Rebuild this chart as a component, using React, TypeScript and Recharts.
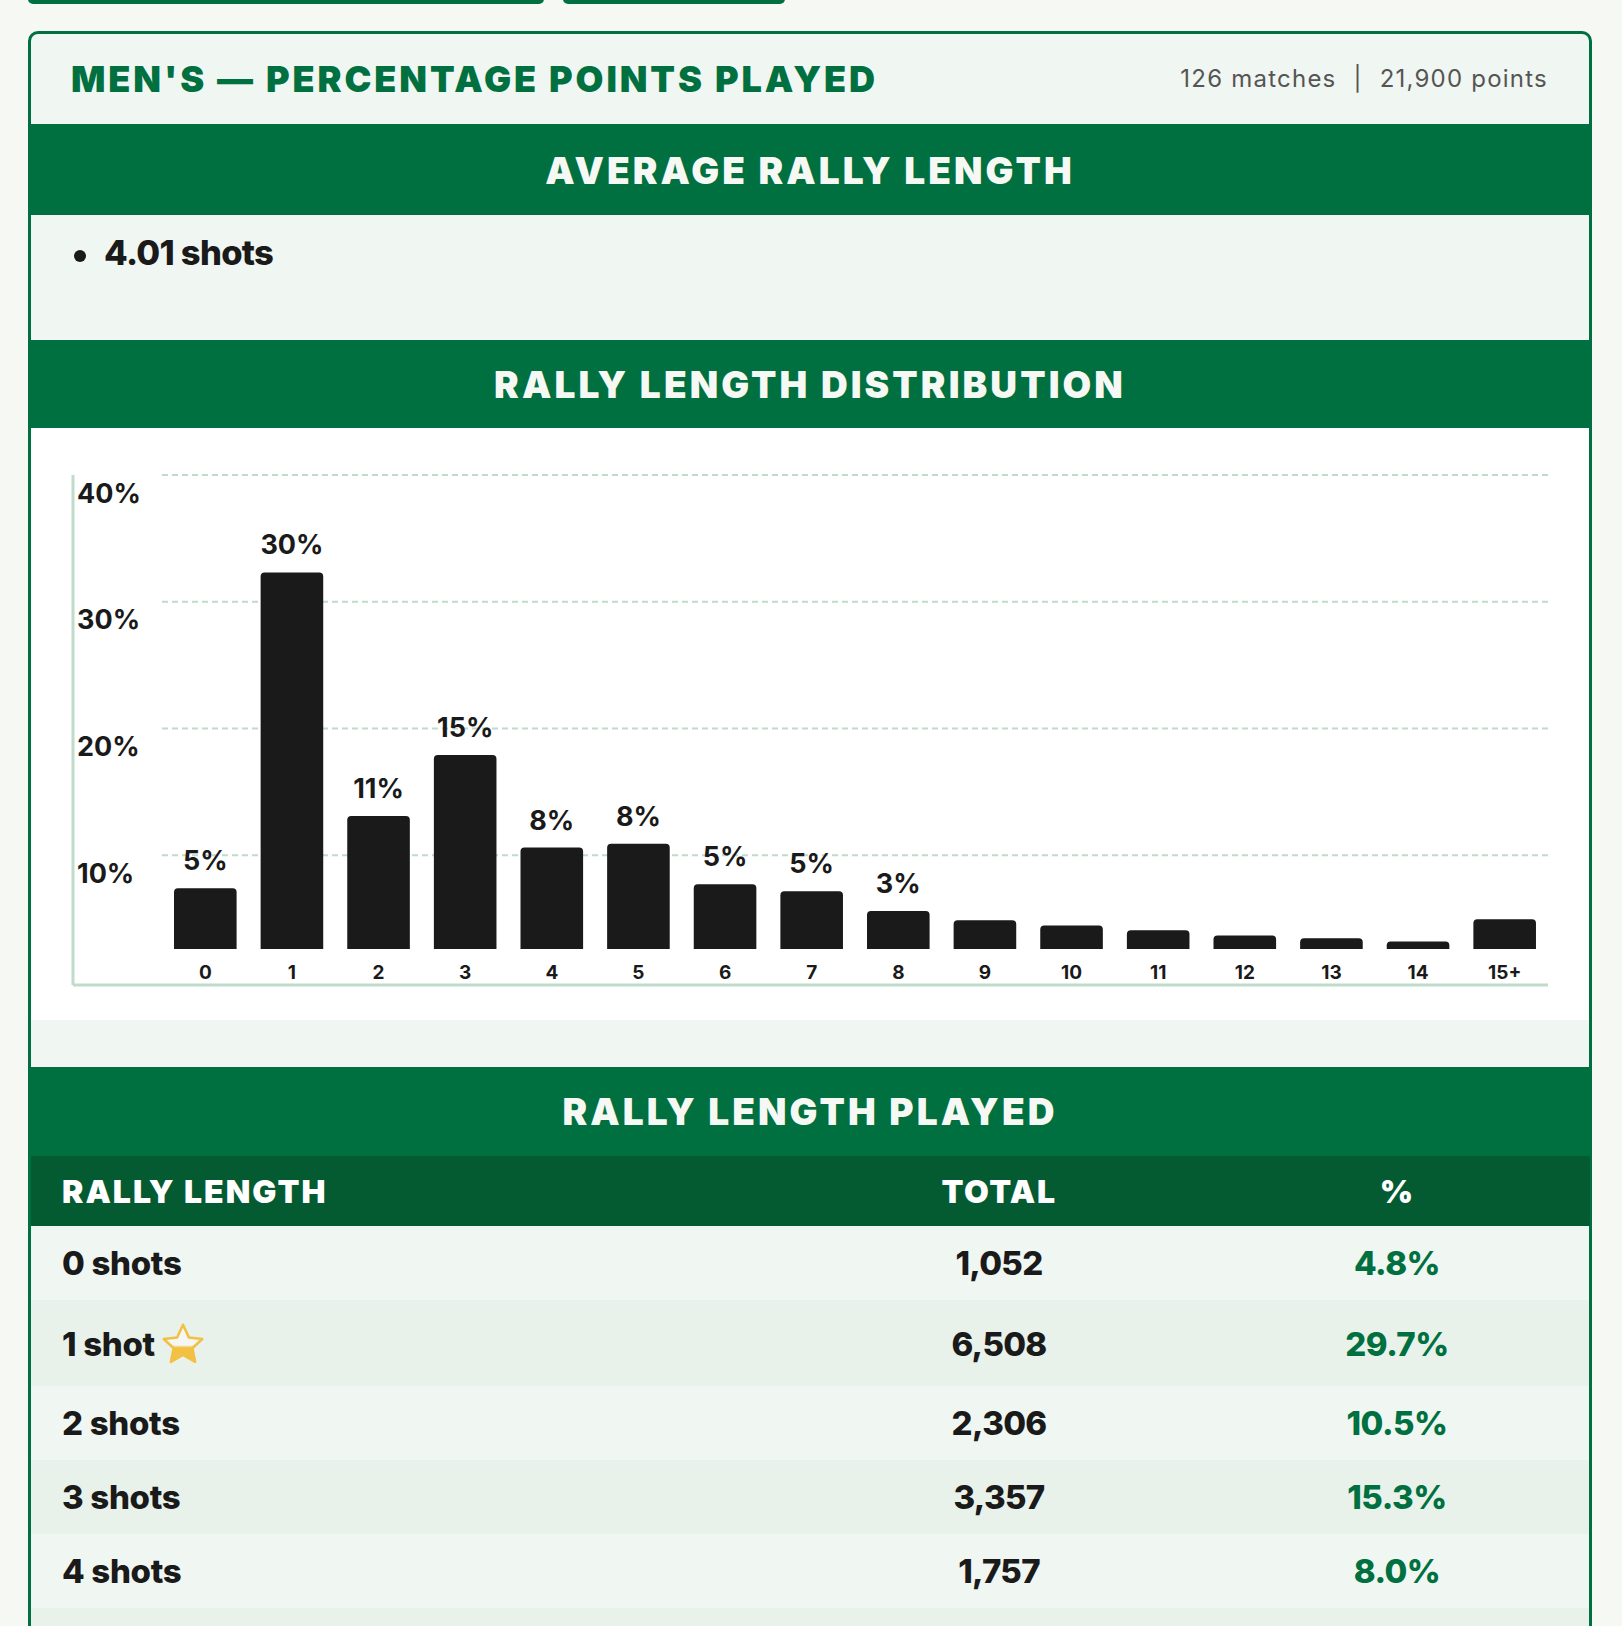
import React from "react";
import { BarChart, Bar, XAxis, YAxis, CartesianGrid, LabelList } from "recharts";

const title = "MEN'S — PERCENTAGE POINTS PLAYED";
const matches = "126 matches";
const points = "21,900 points";
const averageTitle = "AVERAGE RALLY LENGTH";
const averageValue = "4.01 shots";
const distributionTitle = "RALLY LENGTH DISTRIBUTION";
const tableTitle = "RALLY LENGTH PLAYED";

const categories = ["0", "1", "2", "3", "4", "5", "6", "7", "8", "9", "10", "11", "12", "13", "14", "15+"];
const shares = [4.8, 29.7, 10.5, 15.3, 8.0, 8.3, 5.1, 4.55, 3.0, 2.26, 1.86, 1.47, 1.07, 0.84, 0.6, 2.34];
const barLabels = ["5%", "30%", "11%", "15%", "8%", "8%", "5%", "5%", "3%", "", "", "", "", "", "", ""];
const scaleTicks = [10, 20, 30, 40];

const tableHeaders = ["RALLY LENGTH", "TOTAL", "%"];
const rowLabels = ["0 shots", "1 shot", "2 shots", "3 shots", "4 shots", ""];
const rowTotals = ["1,052", "6,508", "2,306", "3,357", "1,757", ""];
const rowPercents = ["4.8%", "29.7%", "10.5%", "15.3%", "8.0%", ""];

const chartData = categories.map((name, i) => ({ name, share: shares[i], label: barLabels[i] }));

const GREEN = "#007040";
const DARK = "#1a1a1a";
const FONT = "Inter, sans-serif";
const PAGE = "#f6f8f4";
const PANEL = "#f0f6f1";
const ALT = "#e8f2ea";
const LINE = "#bfdbc9";

const box = (left: number, top: number, width: number, height: number, extra: React.CSSProperties = {}): React.CSSProperties => ({
  position: "absolute", left, top, width, height, ...extra,
});

function Band({ top, height, text, shift = 0 }: { top: number; height: number; text: string; shift?: number }) {
  return (
    <div style={box(31, top, 1558, height, {
      background: GREEN, color: PAGE, fontSize: 37, fontWeight: 900, letterSpacing: 3.1,
      textAlign: "center", lineHeight: `${height + shift * 2}px`,
    })}>{text}</div>
  );
}

function Star() {
  return (
    <svg width="46" height="44" viewBox="0 0 24 24" style={{ position: "absolute", left: 129, top: 22 }}>
      <defs>
        <linearGradient id="starFill" x1="0" y1="0" x2="0" y2="1">
          <stop offset="0.55" stopColor="#f6f6f2" />
          <stop offset="0.62" stopColor="#f2c144" />
        </linearGradient>
      </defs>
      <path d="M12 1.5l3.2 7 7.3.8-5.4 5 1.5 7.4L12 18l-6.6 3.7 1.5-7.4-5.4-5 7.3-.8z"
        fill="url(#starFill)" stroke="#f2c144" strokeWidth="1.4" strokeLinejoin="round" />
    </svg>
  );
}

const rowTops = [1226, 1300, 1386, 1460, 1534, 1608];
const rowHeights = [74, 86, 74, 74, 74, 18];

function GridLine(props: any) {
  return <line x1={131} x2={props.x2} y1={props.y1} y2={props.y2} stroke={LINE} strokeWidth={2} strokeDasharray="6 4" />;
}

export default function App() {
  return (
    <div style={box(0, 0, 1622, 1626, { background: PAGE, overflow: "hidden", fontFamily: FONT, color: DARK })}>
      <div style={box(28, -10, 516, 14, { background: GREEN, borderRadius: 5 })} />
      <div style={box(563, -10, 222, 14, { background: GREEN, borderRadius: 5 })} />

      <div style={box(28, 31, 1564, 1640, { boxSizing: "border-box", border: `3px solid ${GREEN}`, borderRadius: 10, background: PANEL })} />

      <div style={box(71, 52, 900, 54, { color: GREEN, fontSize: 36, fontWeight: 900, letterSpacing: 2.9, lineHeight: "54px", whiteSpace: "nowrap" })}>{title}</div>
      <div style={box(1100, 59, 448, 40, { color: "#555", fontSize: 24, letterSpacing: 1.22, lineHeight: "40px", textAlign: "right", whiteSpace: "nowrap" })}>
        {matches}<span style={{ margin: "0 17px" }}>|</span>{points}
      </div>

      <Band top={124} height={91} text={averageTitle} shift={1.5} />
      <div style={box(74, 250, 12, 12, { background: DARK, borderRadius: "50%" })} />
      <div style={box(104, 229, 400, 48, { fontSize: 34.5, fontWeight: 800, letterSpacing: -0.7, lineHeight: "48px" })}>{averageValue}</div>

      <Band top={340} height={88} text={distributionTitle} shift={1} />
      <div style={box(31, 428, 1558, 592, { background: "#fff" })}>
        <BarChart width={1558} height={592} data={chartData} margin={{ top: 47, right: 41, bottom: 34, left: 42 }} barSize={62.6}>
          <CartesianGrid yAxisId="grid" vertical={false} horizontal={<GridLine />} syncWithTicks />
          <XAxis dataKey="name" height={1} interval={0} padding={{ left: 89, right: 0 }}
            axisLine={{ stroke: LINE, strokeWidth: 3 }} tickLine={false}
            tick={{ fill: DARK, fontSize: 19, fontWeight: 700, fontFamily: FONT, dy: -27 }} />
          <YAxis yAxisId="grid" domain={[-0.23, 40]} ticks={scaleTicks} allowDataOverflow mirror width={1}
            tickFormatter={(v: number) => `${v}%`} axisLine={{ stroke: LINE, strokeWidth: 3 }} tickLine={false} tickSize={0} tickMargin={4}
            tick={{ fill: DARK, fontSize: 27, fontWeight: 700, fontFamily: FONT, dy: 18 }} />
          <YAxis yAxisId="bars" hide domain={[-2.84, 37.39]} allowDataOverflow />
          <Bar yAxisId="bars" dataKey="share" fill={DARK} radius={[4, 4, 0, 0]} isAnimationActive={false}>
            <LabelList dataKey="label" position="top" offset={18} fill={DARK} fontSize={27} fontWeight={700} fontFamily={FONT} />
          </Bar>
        </BarChart>
      </div>

      <Band top={1067} height={89} text={tableTitle} />
      <div style={box(31, 1156, 1559, 70, { background: "#045b32" })} />
      <div style={box(62, 1157, 500, 69, { color: "#fff", fontSize: 32, fontWeight: 900, letterSpacing: 2.0, lineHeight: "69px", whiteSpace: "nowrap" })}>{tableHeaders[0]}</div>
      <div style={box(799, 1157, 400, 69, { color: "#fff", fontSize: 32, fontWeight: 900, letterSpacing: 1.6, lineHeight: "69px", textAlign: "center" })}>{tableHeaders[1]}</div>
      <div style={box(1197, 1157, 400, 69, { color: "#fff", fontSize: 32, fontWeight: 900, letterSpacing: 1.2, lineHeight: "69px", textAlign: "center" })}>{tableHeaders[2]}</div>

      {rowLabels.map((label, i) => {
        const lh = rowHeights[i] + (i === 1 ? 2 : 0);
        return (
          <div key={i} style={box(31, rowTops[i], 1558, rowHeights[i], { background: i % 2 ? ALT : PANEL, overflow: "hidden" })}>
            <div style={box(31, 0, 400, lh, { fontSize: 33, fontWeight: 800, lineHeight: `${lh}px`, letterSpacing: -0.3 })}>{label}</div>
            {i === 1 && <Star />}
            <div style={box(768, 0, 400, lh, { fontSize: 33, fontWeight: 800, letterSpacing: -0.7, lineHeight: `${lh}px`, textAlign: "center" })}>{rowTotals[i]}</div>
            <div style={box(1166, 0, 400, lh, { fontSize: 33, fontWeight: 800, letterSpacing: -0.5, color: GREEN, lineHeight: `${lh}px`, textAlign: "center" })}>{rowPercents[i]}</div>
          </div>
        );
      })}
    </div>
  );
}
